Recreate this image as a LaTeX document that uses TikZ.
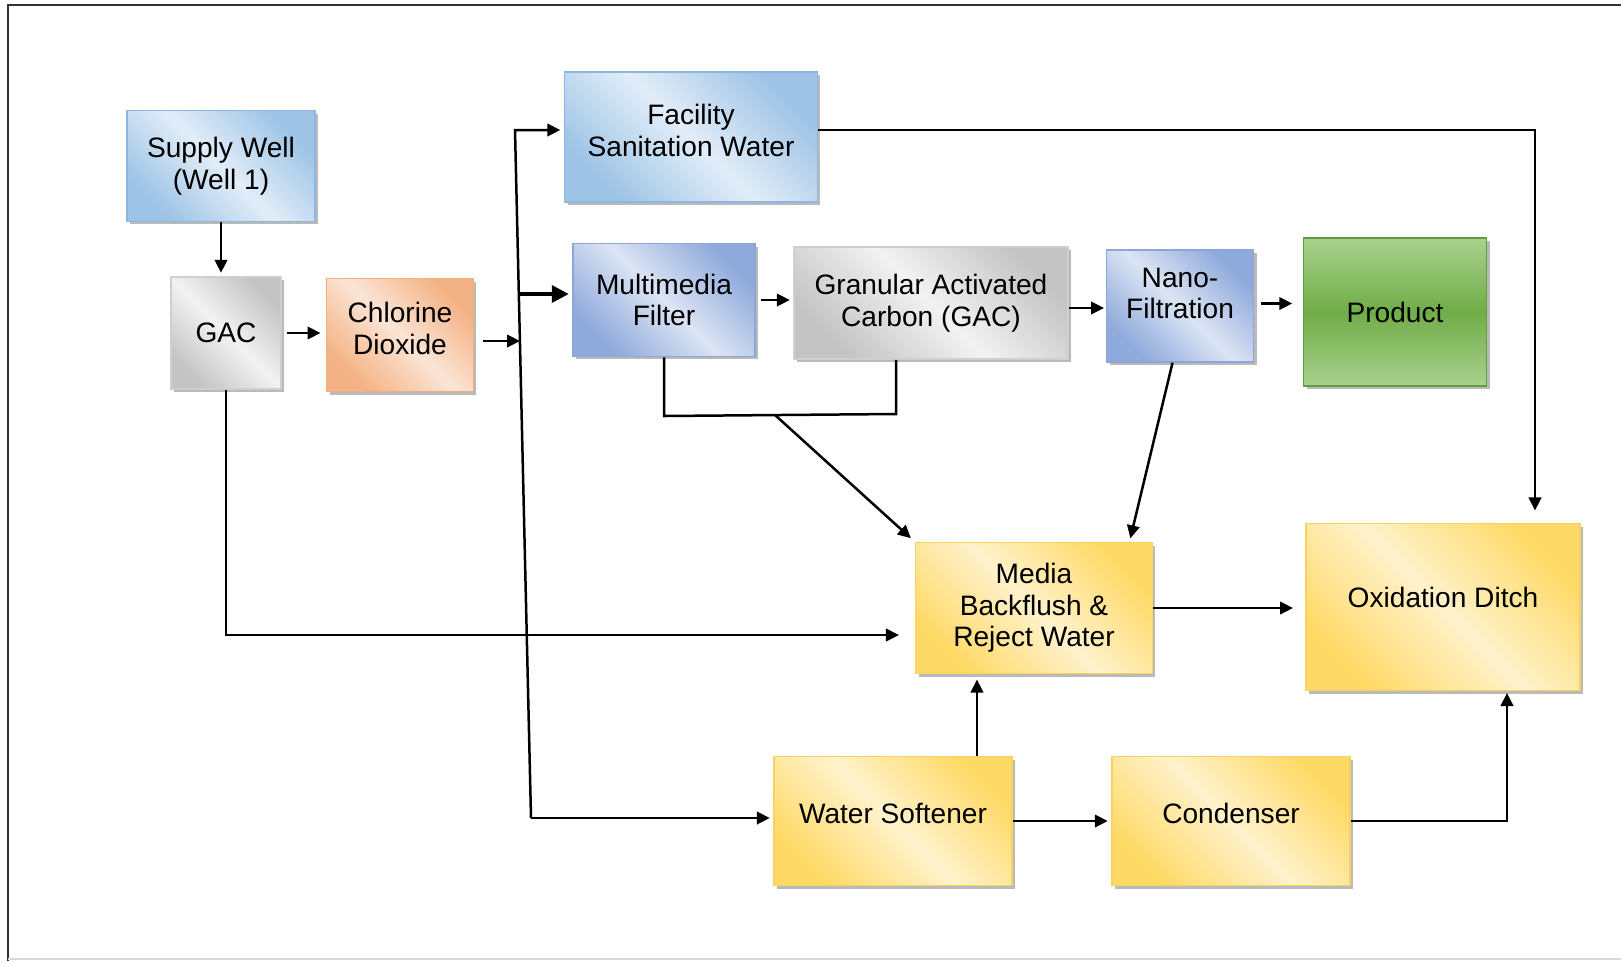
\documentclass[tikz,border=0pt]{standalone}
\usepackage{fontspec}
\setmainfont{Liberation Sans}
\usetikzlibrary{arrows.meta,shadows}

\definecolor{skyDark}{HTML}{9DC3E6}
\definecolor{skyLight}{HTML}{E2EDF8}
\definecolor{skyLine}{HTML}{8DB6E0}
\definecolor{lavDark}{HTML}{8EA9DB}
\definecolor{lavLight}{HTML}{DCE4F4}
\definecolor{lavLine}{HTML}{8CA6D8}
\definecolor{greyDark}{HTML}{C4C4C4}
\definecolor{greyLight}{HTML}{F2F2F2}
\definecolor{greyLine}{HTML}{CFCFCF}
\definecolor{peachDark}{HTML}{F4B183}
\definecolor{peachLight}{HTML}{FBE5D6}
\definecolor{peachLine}{HTML}{F0AE80}
\definecolor{sunDark}{HTML}{FFD966}
\definecolor{sunLight}{HTML}{FFF2CC}
\definecolor{sunLine}{HTML}{F7D35E}
\definecolor{leafLight}{HTML}{A9D18E}
\definecolor{leafMid}{HTML}{70AD47}
\definecolor{leafLine}{HTML}{5E9E3C}

\tikzset{
  box/.style={draw, line width=0.03cm, align=center, inner sep=2pt,
    font=\fontsize{16}{18}\selectfont,
    drop shadow={shadow xshift=0.06cm, shadow yshift=-0.06cm, fill=black!45, opacity=0.6}},
  skybox/.style={box, draw=skyLine, left color=skyDark, right color=skyDark,
    middle color=skyLight, shading angle=135},
  lavbox/.style={box, draw=lavLine, left color=lavDark, right color=lavDark,
    middle color=lavLight, shading angle=135},
  greybox/.style={box, draw=greyLine, left color=greyDark, right color=greyDark,
    middle color=greyLight, shading angle=135},
  peachbox/.style={box, draw=peachLine, left color=peachDark, right color=peachDark,
    middle color=peachLight, shading angle=135},
  sunbox/.style={box, draw=sunLine, left color=sunDark, right color=sunDark,
    middle color=sunLight, shading angle=135},
  leafbox/.style={box, draw=leafLine, top color=leafLight, bottom color=leafLight,
    middle color=leafMid},
  pipe/.style={line width=0.05cm},
  flow/.style={pipe, -{Triangle[length=0.26cm,width=0.25cm]}},
  bigflow/.style={line width=0.07cm, -{Triangle[length=0.34cm,width=0.34cm]}},
}

\begin{document}
\begin{tikzpicture}[x=0.02cm, y=-0.02cm]
    \useasboundingbox (0,0) rectangle (1621,961);

    % Frame
    \draw[line width=0.05cm, black!80] (8,961) -- (8,5) -- (1621,5);
    \draw[line width=0.04cm, black!15] (8,959) -- (1621,959);

    % Source and pre-treatment
    \node[skybox, minimum width=3.76cm, minimum height=2.22cm] (sup) at (221,166) {Supply Well\\(Well 1)};
    \node[greybox, minimum width=2.2cm, minimum height=2.24cm] (gac) at (226,333) {GAC};
    \node[peachbox, minimum width=2.94cm, minimum height=2.26cm, text depth=0.28cm] (clo) at (400,335) {Chlorine\\Dioxide};

    % Upper line
    \node[skybox, minimum width=5.06cm, minimum height=2.6cm, text depth=0.28cm] (fac) at (691,137) {Facility\\Sanitation Water};
    \node[lavbox, minimum width=3.64cm, minimum height=2.26cm] (mmf) at (664,300) {Multimedia\\Filter};
    \node[greybox, minimum width=5.48cm, minimum height=2.24cm] (gran) at (931,303) {Granular Activated\\Carbon (GAC)};
    \node[lavbox, minimum width=2.94cm, minimum height=2.24cm, text depth=0.5cm] (nano) at (1180,306) {Nano-\\Filtration};
    \node[leafbox, minimum width=3.66cm, minimum height=2.96cm] (prod) at (1395,312) {Product};

    % Waste side
    \node[sunbox, minimum width=4.74cm, minimum height=2.62cm] (media) at (1034,608) {Media\\Backflush \&\\Reject Water};
    \node[sunbox, minimum width=5.48cm, minimum height=3.34cm, text depth=0.37cm] (oxd) at (1443,607) {Oxidation Ditch};
    \node[sunbox, minimum width=4.76cm, minimum height=2.58cm, text depth=0.32cm] (soft) at (893,821) {Water Softener};
    \node[sunbox, minimum width=4.76cm, minimum height=2.58cm, text depth=0.32cm] (cond) at (1231,821) {Condenser};

    % Bend points
    \coordinate (bustop) at (515,130);
    \coordinate (busmid) at (519,294);
    \coordinate (busin) at (520,341);
    \coordinate (busbot) at (531,818);
    \coordinate (facturn) at (1535,130);
    \coordinate (jl) at (664,416);
    \coordinate (jr) at (896,414);
    \coordinate (jd) at (775,415);
    \coordinate (gacturn) at (226,635);
    \coordinate (condturn) at (1507,821);

    % Pre-treatment arrows
    \draw[flow, shorten >=2pt] (sup.south) -- (sup.south |- gac.north);
    \draw[flow, shorten <=3pt, shorten >=3pt] (gac.east) -- (clo.west |- gac.east);
    \draw[flow, shorten <=5pt] (clo.east |- busin) -- (busin);

    % Distribution line
    \draw[flow, shorten >=2pt] (busbot) -- (bustop) -- (fac.west |- bustop);
    \draw[bigflow, shorten >=2pt] (busmid) -- (mmf.west |- busmid);
    \draw[flow, shorten >=2pt] (busbot) -- (soft.west |- busbot);

    % Treatment train
    \draw[flow, shorten <=3pt, shorten >=2pt] (mmf.east) -- (mmf.east -| gran.west);
    \draw[flow, shorten >=1pt] ([yshift=-0.1cm]gran.east) -- ([yshift=-0.1cm]gran.east -| nano.west);
    \draw[flow, shorten <=4pt, shorten >=6pt] ([yshift=0.05cm]nano.east) -- ([yshift=0.05cm]nano.east -| prod.west);

    % Backwash and reject
    \draw[pipe] (mmf.south) -- (jl) -- (jr) -- (jr |- gran.south);
    \draw[flow, shorten >=3pt] (jd) -- (media.north west);
    \draw[flow, shorten >=2pt] ([xshift=-0.15cm]nano.south) -- ([xshift=1.91cm]media.north);
    \draw[flow, shorten >=9pt] (gac.south) -- (gacturn) -- (gacturn -| media.west);

    % To oxidation ditch
    \draw[flow, shorten >=7pt] (fac.east |- bustop) -- (facturn) -- (facturn |- oxd.north);
    \draw[flow, shorten >=7pt] (media.east) -- (media.east -| oxd.west);
    \draw[flow, shorten >=1pt] (cond.east) -- (condturn) -- (condturn |- oxd.south);

    % Softener and condenser
    \draw[flow, shorten >=3pt] ([xshift=1.68cm]soft.north) -- ([xshift=1.68cm]soft.north |- media.south);
    \draw[flow, shorten >=2pt] (soft.east) -- (cond.west);
\end{tikzpicture}
\end{document}
